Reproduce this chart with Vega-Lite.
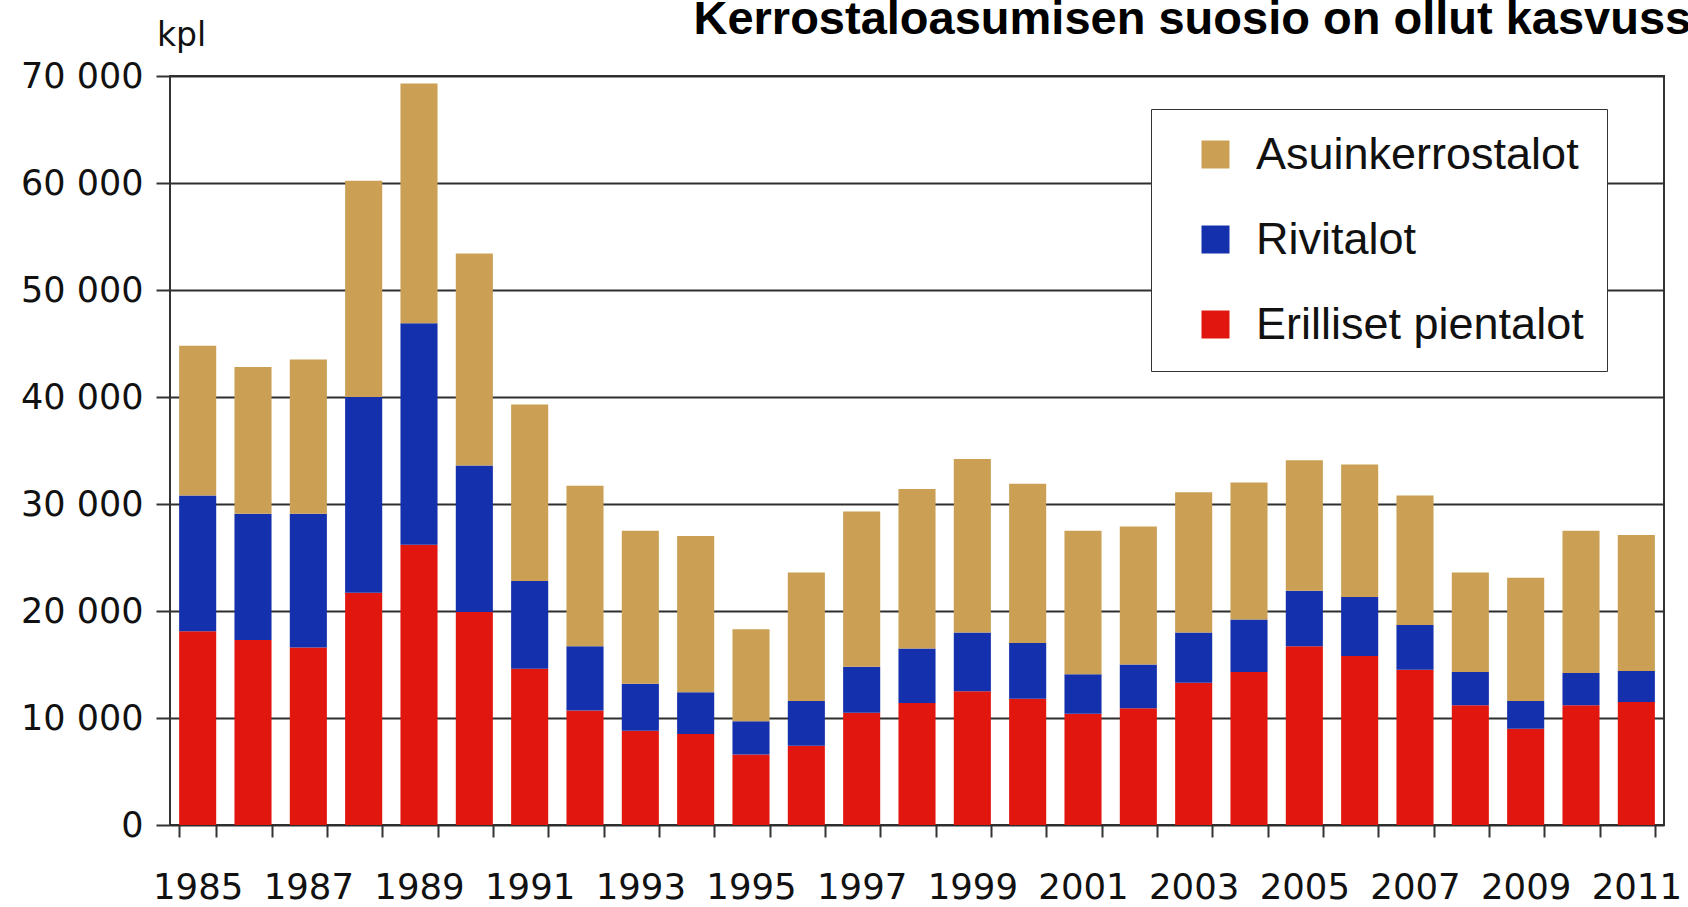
{
  "$schema": "https://vega.github.io/schema/vega-lite/v6.json",
  "autosize": {"type": "none"},
  "padding": {"left": 170, "top": 76, "right": 24, "bottom": 82},
  "width": 1494,
  "height": 749,
  "background": "white",
  "data": {
    "values": [
      {"year": 1985, "type": "Erilliset pientalot", "value": 18100},
      {"year": 1985, "type": "Rivitalot", "value": 12700},
      {"year": 1985, "type": "Asuinkerrostalot", "value": 14000},
      {"year": 1986, "type": "Erilliset pientalot", "value": 17300},
      {"year": 1986, "type": "Rivitalot", "value": 11800},
      {"year": 1986, "type": "Asuinkerrostalot", "value": 13700},
      {"year": 1987, "type": "Erilliset pientalot", "value": 16600},
      {"year": 1987, "type": "Rivitalot", "value": 12500},
      {"year": 1987, "type": "Asuinkerrostalot", "value": 14400},
      {"year": 1988, "type": "Erilliset pientalot", "value": 21700},
      {"year": 1988, "type": "Rivitalot", "value": 18300},
      {"year": 1988, "type": "Asuinkerrostalot", "value": 20200},
      {"year": 1989, "type": "Erilliset pientalot", "value": 26200},
      {"year": 1989, "type": "Rivitalot", "value": 20700},
      {"year": 1989, "type": "Asuinkerrostalot", "value": 22400},
      {"year": 1990, "type": "Erilliset pientalot", "value": 19900},
      {"year": 1990, "type": "Rivitalot", "value": 13700},
      {"year": 1990, "type": "Asuinkerrostalot", "value": 19800},
      {"year": 1991, "type": "Erilliset pientalot", "value": 14600},
      {"year": 1991, "type": "Rivitalot", "value": 8200},
      {"year": 1991, "type": "Asuinkerrostalot", "value": 16500},
      {"year": 1992, "type": "Erilliset pientalot", "value": 10700},
      {"year": 1992, "type": "Rivitalot", "value": 6000},
      {"year": 1992, "type": "Asuinkerrostalot", "value": 15000},
      {"year": 1993, "type": "Erilliset pientalot", "value": 8800},
      {"year": 1993, "type": "Rivitalot", "value": 4400},
      {"year": 1993, "type": "Asuinkerrostalot", "value": 14300},
      {"year": 1994, "type": "Erilliset pientalot", "value": 8500},
      {"year": 1994, "type": "Rivitalot", "value": 3900},
      {"year": 1994, "type": "Asuinkerrostalot", "value": 14600},
      {"year": 1995, "type": "Erilliset pientalot", "value": 6600},
      {"year": 1995, "type": "Rivitalot", "value": 3100},
      {"year": 1995, "type": "Asuinkerrostalot", "value": 8600},
      {"year": 1996, "type": "Erilliset pientalot", "value": 7400},
      {"year": 1996, "type": "Rivitalot", "value": 4200},
      {"year": 1996, "type": "Asuinkerrostalot", "value": 12000},
      {"year": 1997, "type": "Erilliset pientalot", "value": 10500},
      {"year": 1997, "type": "Rivitalot", "value": 4300},
      {"year": 1997, "type": "Asuinkerrostalot", "value": 14500},
      {"year": 1998, "type": "Erilliset pientalot", "value": 11400},
      {"year": 1998, "type": "Rivitalot", "value": 5100},
      {"year": 1998, "type": "Asuinkerrostalot", "value": 14900},
      {"year": 1999, "type": "Erilliset pientalot", "value": 12500},
      {"year": 1999, "type": "Rivitalot", "value": 5500},
      {"year": 1999, "type": "Asuinkerrostalot", "value": 16200},
      {"year": 2000, "type": "Erilliset pientalot", "value": 11800},
      {"year": 2000, "type": "Rivitalot", "value": 5200},
      {"year": 2000, "type": "Asuinkerrostalot", "value": 14900},
      {"year": 2001, "type": "Erilliset pientalot", "value": 10400},
      {"year": 2001, "type": "Rivitalot", "value": 3700},
      {"year": 2001, "type": "Asuinkerrostalot", "value": 13400},
      {"year": 2002, "type": "Erilliset pientalot", "value": 10900},
      {"year": 2002, "type": "Rivitalot", "value": 4100},
      {"year": 2002, "type": "Asuinkerrostalot", "value": 12900},
      {"year": 2003, "type": "Erilliset pientalot", "value": 13300},
      {"year": 2003, "type": "Rivitalot", "value": 4700},
      {"year": 2003, "type": "Asuinkerrostalot", "value": 13100},
      {"year": 2004, "type": "Erilliset pientalot", "value": 14300},
      {"year": 2004, "type": "Rivitalot", "value": 4900},
      {"year": 2004, "type": "Asuinkerrostalot", "value": 12800},
      {"year": 2005, "type": "Erilliset pientalot", "value": 16700},
      {"year": 2005, "type": "Rivitalot", "value": 5200},
      {"year": 2005, "type": "Asuinkerrostalot", "value": 12200},
      {"year": 2006, "type": "Erilliset pientalot", "value": 15800},
      {"year": 2006, "type": "Rivitalot", "value": 5500},
      {"year": 2006, "type": "Asuinkerrostalot", "value": 12400},
      {"year": 2007, "type": "Erilliset pientalot", "value": 14500},
      {"year": 2007, "type": "Rivitalot", "value": 4200},
      {"year": 2007, "type": "Asuinkerrostalot", "value": 12100},
      {"year": 2008, "type": "Erilliset pientalot", "value": 11200},
      {"year": 2008, "type": "Rivitalot", "value": 3100},
      {"year": 2008, "type": "Asuinkerrostalot", "value": 9300},
      {"year": 2009, "type": "Erilliset pientalot", "value": 9000},
      {"year": 2009, "type": "Rivitalot", "value": 2600},
      {"year": 2009, "type": "Asuinkerrostalot", "value": 11500},
      {"year": 2010, "type": "Erilliset pientalot", "value": 11200},
      {"year": 2010, "type": "Rivitalot", "value": 3000},
      {"year": 2010, "type": "Asuinkerrostalot", "value": 13300},
      {"year": 2011, "type": "Erilliset pientalot", "value": 11500},
      {"year": 2011, "type": "Rivitalot", "value": 2900},
      {"year": 2011, "type": "Asuinkerrostalot", "value": 12700}
    ]
  },
  "transform": [
    {"calculate": "indexof(['Erilliset pientalot', 'Rivitalot', 'Asuinkerrostalot'], datum.type)", "as": "stackOrder"}
  ],
  "mark": {"type": "bar"},
  "encoding": {
    "x": {
      "field": "year",
      "type": "ordinal",
      "scale": {"paddingInner": 0.33, "paddingOuter": 0.165},
      "axis": {
        "labelAngle": 0,
        "labelOverlap": false,
        "labelExpr": "datum.value % 2 == 1 ? datum.label : ''",
        "labelFont": "DejaVu Sans",
        "labelFontSize": 35.5,
        "labelColor": "#111111",
        "labelPadding": 33,
        "tickBand": "extent",
        "tickSize": 12,
        "tickWidth": 2,
        "tickColor": "#333333",
        "domain": false,
        "grid": false,
        "title": "Kerrostaloasumisen suosio on ollut kasvussa",
        "titleFont": "Liberation Sans",
        "titleFontSize": 47,
        "titleFontWeight": "bold",
        "titleColor": "#000000",
        "titleAngle": 0,
        "titleAlign": "left",
        "titleBaseline": "alphabetic",
        "titleX": 523,
        "titleY": -792
      }
    },
    "y": {
      "field": "value",
      "type": "quantitative",
      "stack": "zero",
      "scale": {"domain": [0, 70000], "nice": false},
      "axis": {
        "values": [0, 10000, 20000, 30000, 40000, 50000, 60000, 70000],
        "labelExpr": "replace(format(datum.value, ','), ',', ' ')",
        "labelFont": "DejaVu Sans",
        "labelFontSize": 35,
        "labelColor": "#111111",
        "labelPadding": 13,
        "tickSize": 14,
        "tickWidth": 2,
        "tickColor": "#333333",
        "domain": false,
        "grid": true,
        "gridColor": "#2e2e2e",
        "gridWidth": 2,
        "title": "kpl",
        "titleFont": "DejaVu Sans",
        "titleFontSize": 33,
        "titleFontWeight": "normal",
        "titleColor": "#111111",
        "titleAngle": 0,
        "titleAlign": "center",
        "titleBaseline": "alphabetic",
        "titleX": 11,
        "titleY": -31
      }
    },
    "order": {"field": "stackOrder", "type": "quantitative", "sort": "ascending"},
    "color": {
      "field": "type",
      "type": "nominal",
      "scale": {
        "domain": ["Asuinkerrostalot", "Rivitalot", "Erilliset pientalot"],
        "range": ["#CBA055", "#1430AC", "#E1160E"]
      },
      "legend": {
        "title": null,
        "orient": "none",
        "legendX": 981,
        "legendY": 33,
        "padding": 23,
        "symbolOffset": 19,
        "symbolType": "square",
        "symbolSize": 784,
        "symbolStrokeWidth": 0,
        "symbolOpacity": 1,
        "labelFont": "Liberation Sans",
        "labelFontSize": 45,
        "labelColor": "#111111",
        "labelOffset": 18,
        "labelLimit": 600,
        "rowPadding": 39,
        "strokeColor": "#333333",
        "fillColor": "white"
      }
    }
  },
  "config": {
    "view": {"stroke": "#333333", "strokeWidth": 2}
  }
}
